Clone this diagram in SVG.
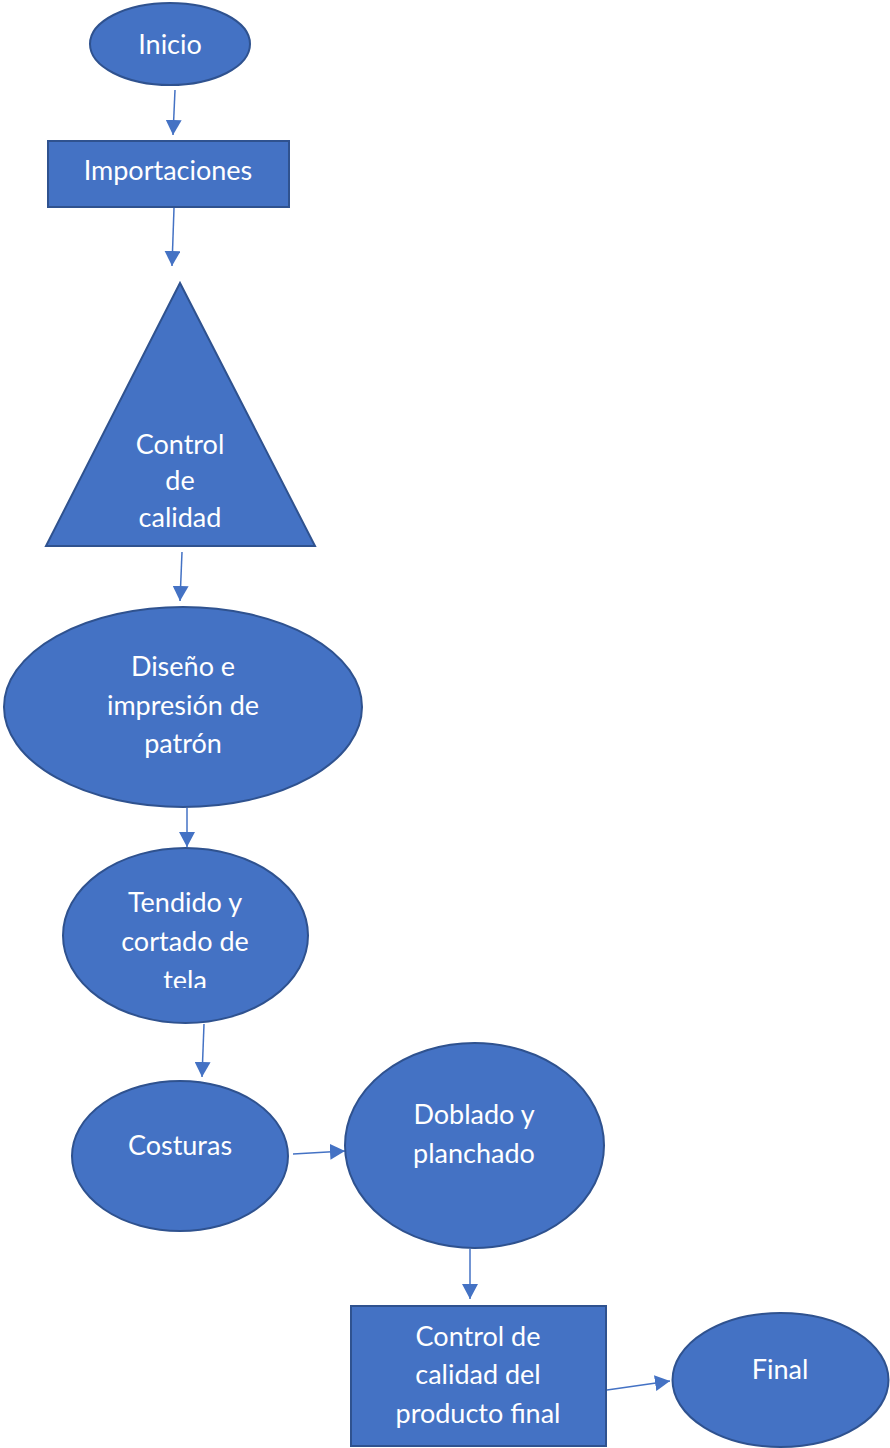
<svg xmlns="http://www.w3.org/2000/svg" width="890" height="1448" viewBox="0 0 890 1448">
<defs>
<style>
.n{fill:#4472C4;stroke:#2F528F;stroke-width:2}
.t{fill:#fff;font-family:Lato,"Open Sans",sans-serif;font-size:27px;text-anchor:middle}
.c{stroke:#4472C4;stroke-width:1.5;fill:none}
</style>
<marker id="ah" viewBox="0 0 15 16" refX="15" refY="8" markerWidth="15" markerHeight="16" markerUnits="userSpaceOnUse" orient="auto">
<path d="M0,0 L15,8 L0,16 Z" fill="#4472C4"/>
</marker>
<clipPath id="clipTela"><rect x="0" y="840" width="400" height="148"/></clipPath>
</defs>
<rect width="890" height="1448" fill="#fff"/>
<g id="connectors">
<path class="c" d="M175,90 L173,135" marker-end="url(#ah)"/>
<path class="c" d="M174,208 L172,266" marker-end="url(#ah)"/>
<path class="c" d="M182,552 L180,601" marker-end="url(#ah)"/>
<path class="c" d="M187,808 L187,847" marker-end="url(#ah)"/>
<path class="c" d="M204,1024 L202,1077" marker-end="url(#ah)"/>
<path class="c" d="M293,1154 L345,1151" marker-end="url(#ah)"/>
<path class="c" d="M470,1249 L470,1299" marker-end="url(#ah)"/>
<path class="c" d="M607,1390 L670,1381" marker-end="url(#ah)"/>
</g>
<g id="inicio"><ellipse class="n" cx="170" cy="44" rx="80" ry="41"/><text class="t" x="170" y="54">Inicio</text></g>
<g id="importaciones"><rect class="n" x="48" y="141" width="241" height="66"/><text class="t" x="168" y="180">Importaciones</text></g>
<g id="control-calidad"><polygon class="n" points="180,283 46,546 315,546"/>
<text class="t" x="180" y="454">Control</text><text class="t" x="180" y="490">de</text><text class="t" x="180" y="527">calidad</text></g>
<g id="diseno"><ellipse class="n" cx="183" cy="707" rx="179" ry="100"/>
<text class="t" x="183" y="676">Diseño e</text><text class="t" x="183" y="715">impresión de</text><text class="t" x="183" y="753">patrón</text></g>
<g id="tendido"><ellipse class="n" cx="185.5" cy="935.5" rx="122.5" ry="87.5"/>
<g clip-path="url(#clipTela)"><text class="t" x="185" y="912">Tendido y</text><text class="t" x="185" y="951">cortado de</text><text class="t" x="185" y="990">tela</text></g></g>
<g id="costuras"><ellipse class="n" cx="180" cy="1156" rx="108" ry="75"/><text class="t" x="180" y="1155">Costuras</text></g>
<g id="doblado"><ellipse class="n" cx="474.5" cy="1145.5" rx="129.5" ry="102.5"/>
<text class="t" x="474" y="1124">Doblado y</text><text class="t" x="474" y="1163">planchado</text></g>
<g id="control-final"><rect class="n" x="351" y="1306" width="255" height="140"/>
<text class="t" x="478" y="1346">Control de</text><text class="t" x="478" y="1384">calidad del</text><text class="t" x="478" y="1423">producto final</text></g>
<g id="final"><ellipse class="n" cx="780.5" cy="1380" rx="108" ry="67"/><text class="t" x="780" y="1379">Final</text></g>
</svg>
